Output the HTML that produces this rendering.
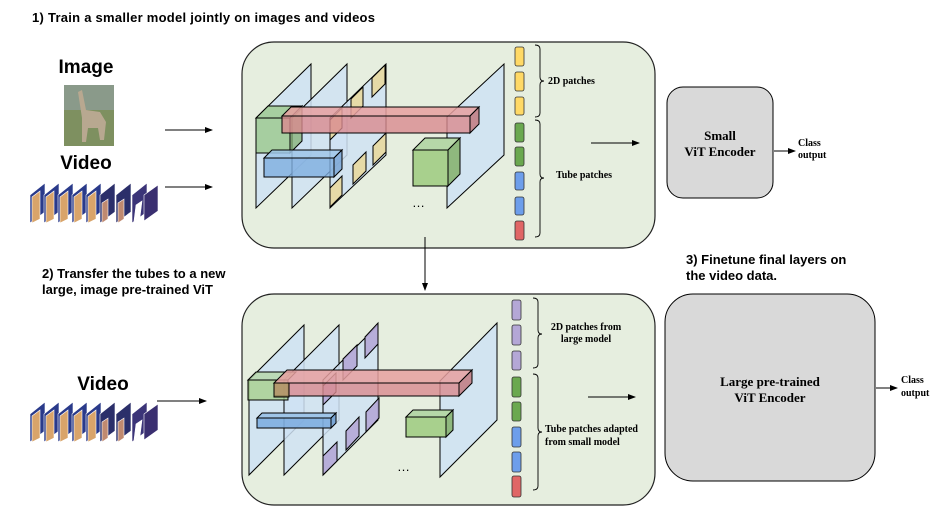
<!DOCTYPE html>
<html><head><meta charset="utf-8"><style>
html,body{margin:0;padding:0;background:#fff;}
svg{display:block;}
.h{font-family:"Liberation Sans",sans-serif;font-weight:bold;font-size:13px;fill:#000;}
.big{font-family:"Liberation Sans",sans-serif;font-weight:bold;font-size:19px;fill:#000;}
.s{font-family:"Liberation Serif",serif;font-weight:bold;font-size:10px;fill:#000;}
.m{font-family:"Liberation Serif",serif;font-weight:bold;font-size:13px;fill:#000;}
</style></head><body>
<svg width="951" height="530" viewBox="0 0 951 530" xmlns="http://www.w3.org/2000/svg">
<defs>
<marker id="a" markerWidth="8" markerHeight="6" refX="7" refY="3" orient="auto"><path d="M0,0 L8,3 L0,6 z" fill="#000"/></marker>
<g id="frames">
  <g stroke="#fff" stroke-width="0.6">
  <polygon points="0,12 15,0 15,29 0,40" fill="#2a3a8a"/><polygon points="2,14 10,8 10,36 2,40" fill="#d9a46a"/>
  <polygon points="14,12 29,0 29,29 14,40" fill="#2a3a8a"/><polygon points="16,14 24,8 24,36 16,40" fill="#d9a46a"/>
  <polygon points="28,12 43,0 43,29 28,40" fill="#2a3a8a"/><polygon points="30,14 38,8 38,36 30,40" fill="#d9a46a"/>
  <polygon points="42,12 57,0 57,29 42,40" fill="#2a3a8a"/><polygon points="44,14 52,8 52,36 44,40" fill="#d9a46a"/>
  <polygon points="56,12 71,0 71,29 56,40" fill="#2a3a8a"/><polygon points="58,14 66,8 66,36 58,40" fill="#d9a46a"/>
  <polygon points="70,12 85,0 85,29 70,40" fill="#2b2f6a"/><polygon points="72,20 78,16 78,36 72,40" fill="#c08a70"/>
  <polygon points="86,12 101,0 101,29 86,40" fill="#2b2f6a"/><polygon points="88,20 94,16 94,36 88,40" fill="#c08a70"/>
  <polygon points="102,12 117,0 117,29 102,40" fill="#3b3478"/><polygon points="106,22 112,18 110,34 104,38" fill="#fff"/>
  <polygon points="114,12 128,2 128,28 114,38" fill="#3a2f70"/>
  </g>
</g>
</defs>

<text class="h" x="32" y="22" textLength="343">1) Train a smaller model jointly on images and videos</text>
<text class="h" x="42" y="278">2) Transfer the tubes to a new</text>
<text class="h" x="42" y="294">large, image pre-trained ViT</text>
<text class="h" x="686" y="264">3) Finetune final layers on</text>
<text class="h" x="686" y="280">the video data.</text>

<text class="big" x="86" y="73" text-anchor="middle">Image</text>
<rect x="64" y="85" width="50" height="61" fill="#7e9060"/>
<rect x="64" y="85" width="50" height="25" fill="#8a9a8a"/>
<path d="M78,92 L82,90 L86,110 L100,112 L106,122 L104,140 L100,140 L98,128 L88,128 L86,142 L82,142 L82,118 Z" fill="#b8a890"/>
<text class="big" x="86" y="169" text-anchor="middle">Video</text>
<use href="#frames" x="30" y="183"/>
<line x1="165" y1="130" x2="212" y2="130" stroke="#000" stroke-width="1" marker-end="url(#a)"/>
<line x1="165" y1="187" x2="212" y2="187" stroke="#000" stroke-width="1" marker-end="url(#a)"/>

<text class="big" x="103" y="390" text-anchor="middle">Video</text>
<use href="#frames" x="30" y="402"/>
<line x1="157" y1="401" x2="206" y2="401" stroke="#000" stroke-width="1" marker-end="url(#a)"/>

<!-- top box -->
<rect x="242" y="42" width="413" height="206" rx="32" fill="#e6eedf" stroke="#222" stroke-width="1.2"/>
<g stroke="#000" stroke-width="1">
<polygon points="256,118 311,64 311,155 256,208" fill="#cfe2f3" fill-opacity="0.9"/>
<polygon points="292,118 347,64 347,155 292,208" fill="#cfe2f3" fill-opacity="0.85"/>
<polygon points="330,118 386,64 386,155 330,208" fill="#cfe2f3" fill-opacity="0.85"/>
<polygon points="447,117 504,64 504,155 447,208" fill="#cfe2f3" fill-opacity="0.9"/>
<g fill="#e9d89a" fill-opacity="0.85">
<polygon points="330,120 342,108 342,128 330,140"/>
<polygon points="351,99 363,87 363,106 351,118"/>
<polygon points="372,78 385,65 385,84 372,97"/>
<polygon points="330,188 342,176 342,195 330,207"/>
<polygon points="353,165 366,152 366,171 353,184"/>
<polygon points="373,146 386,133 386,152 373,165"/>
</g>
<!-- green cube -->
<polygon points="256,118 268,106 302,106 290,118" fill="#93c47d" fill-opacity="0.7"/>
<polygon points="290,118 302,106 302,141 290,153" fill="#7fae6a" fill-opacity="0.7"/>
<rect x="256" y="118" width="34" height="35" fill="#93c47d" fill-opacity="0.7"/>
<!-- red bar -->
<polygon points="282,116 291,107 479,107 470,116" fill="#e6a0a0" fill-opacity="0.85"/>
<polygon points="470,116 479,107 479,124 470,133" fill="#c27a80" fill-opacity="0.85"/>
<rect x="282" y="116" width="188" height="17" fill="#d98a8e" fill-opacity="0.8"/>
<!-- blue bar -->
<polygon points="264,158 272,150 342,150 334,158" fill="#9fc5e8" fill-opacity="0.85"/>
<polygon points="334,158 342,150 342,169 334,177" fill="#7aa6d6" fill-opacity="0.85"/>
<rect x="264" y="158" width="70" height="19" fill="#7eaee0" fill-opacity="0.8"/>
<!-- small green cube -->
<polygon points="413,150 425,138 460,138 448,150" fill="#b6d7a8"/>
<polygon points="448,150 460,138 460,174 448,186" fill="#8fb87e"/>
<rect x="413" y="150" width="35" height="36" fill="#a8d08d"/>
</g>
<text x="412" y="207" font-family="Liberation Sans,sans-serif" font-size="13">…</text>
<g stroke="#333" stroke-width="0.8">
<rect x="515" y="47" width="9" height="19" rx="2" fill="#ffd966"/>
<rect x="515" y="72" width="9" height="19" rx="2" fill="#ffd966"/>
<rect x="515" y="97" width="9" height="18" rx="2" fill="#ffd966"/>
<rect x="515" y="123" width="9" height="19" rx="2" fill="#6aa84f"/>
<rect x="515" y="147" width="9" height="19" rx="2" fill="#6aa84f"/>
<rect x="515" y="172" width="9" height="18" rx="2" fill="#6d9eeb"/>
<rect x="515" y="197" width="9" height="18" rx="2" fill="#6d9eeb"/>
<rect x="515" y="221" width="9" height="19" rx="2" fill="#e06666"/>
</g>
<g fill="none" stroke="#000" stroke-width="0.9">
<path d="M535,45 q5,0 5,4 v28 q0,4 4,4 q-4,0 -4,4 v28 q0,4 -5,4"/>
<path d="M535,120 q5,0 5,4 v50 q0,4 4,4 q-4,0 -4,4 v51 q0,4 -5,4"/>
</g>
<text class="s" x="548" y="84">2D patches</text>
<text class="s" x="556" y="178">Tube patches</text>
<line x1="591" y1="143" x2="639" y2="143" stroke="#000" marker-end="url(#a)"/>

<line x1="425" y1="237" x2="425" y2="290" stroke="#000" marker-end="url(#a)"/>

<!-- small vit -->
<rect x="667" y="87" width="106" height="111" rx="16" fill="#d9d9d9" stroke="#000" stroke-width="1"/>
<text class="m" x="720" y="140" text-anchor="middle">Small</text>
<text class="m" x="720" y="156" text-anchor="middle">ViT Encoder</text>
<line x1="774" y1="151" x2="795" y2="151" stroke="#000" marker-end="url(#a)"/>
<text class="s" x="798" y="146">Class</text>
<text class="s" x="798" y="158">output</text>

<!-- bottom box -->
<rect x="242" y="294" width="413" height="211" rx="32" fill="#e6eedf" stroke="#222" stroke-width="1.2"/>
<g stroke="#000" stroke-width="1">
<polygon points="249,380 304,325 304,420 249,475" fill="#cfe2f3" fill-opacity="0.9"/>
<polygon points="284,380 339,325 339,420 284,475" fill="#cfe2f3" fill-opacity="0.85"/>
<polygon points="323,380 378,325 378,420 323,475" fill="#cfe2f3" fill-opacity="0.85"/>
<polygon points="440,381 497,323 497,420 440,477" fill="#cfe2f3" fill-opacity="0.9"/>
<g fill="#b4a7d6" fill-opacity="0.9">
<polygon points="323,386 336,373 336,392 323,405"/>
<polygon points="343,359 357,345 357,366 343,380"/>
<polygon points="365,337 378,323 378,344 365,358"/>
<polygon points="323,456 337,442 337,461 323,475"/>
<polygon points="346,431 359,417 359,436 346,450"/>
<polygon points="366,412 379,398 379,418 366,432"/>
</g>
<polygon points="248,380 256,372 296,372 288,380" fill="#b6d7a8" fill-opacity="0.8"/>
<rect x="248" y="380" width="40" height="20" fill="#a8d08d" fill-opacity="0.8"/>
<polygon points="274,383 287,370 472,370 459,383" fill="#e6a0a0" fill-opacity="0.85"/>
<polygon points="459,383 472,370 472,383 459,396" fill="#c27a80" fill-opacity="0.85"/>
<rect x="274" y="383" width="185" height="13" fill="#d98a8e" fill-opacity="0.8"/>
<rect x="274" y="383" width="15" height="14" fill="#a89a60" fill-opacity="0.7"/>
<polygon points="257,418 262,413 336,413 331,418" fill="#9fc5e8"/>
<polygon points="331,418 336,413 336,423 331,428" fill="#7aa6d6"/>
<rect x="257" y="418" width="74" height="10" fill="#7eaee0" fill-opacity="0.9"/>
<polygon points="406,417 413,410 453,410 446,417" fill="#b6d7a8"/>
<polygon points="446,417 453,410 453,430 446,437" fill="#8fb87e"/>
<rect x="406" y="417" width="40" height="20" fill="#a8d08d"/>
</g>
<text x="397" y="471" font-family="Liberation Sans,sans-serif" font-size="13">…</text>
<g stroke="#333" stroke-width="0.8">
<rect x="512" y="300" width="9" height="20" rx="2" fill="#b4a7d6"/>
<rect x="512" y="325" width="9" height="20" rx="2" fill="#b4a7d6"/>
<rect x="512" y="351" width="9" height="19" rx="2" fill="#b4a7d6"/>
<rect x="512" y="377" width="9" height="20" rx="2" fill="#6aa84f"/>
<rect x="512" y="402" width="9" height="19" rx="2" fill="#6aa84f"/>
<rect x="512" y="427" width="9" height="20" rx="2" fill="#6d9eeb"/>
<rect x="512" y="452" width="9" height="20" rx="2" fill="#6d9eeb"/>
<rect x="512" y="476" width="9" height="21" rx="2" fill="#e06666"/>
</g>
<g fill="none" stroke="#000" stroke-width="0.9">
<path d="M533,298 q5,0 5,4 v28 q0,4 4,4 q-4,0 -4,4 v26 q0,4 -5,4"/>
<path d="M533,374 q5,0 5,4 v50 q0,4 4,4 q-4,0 -4,4 v50 q0,4 -5,4"/>
</g>
<text class="s" x="586" y="330" text-anchor="middle">2D patches from</text>
<text class="s" x="586" y="342" text-anchor="middle">large model</text>
<text class="s" x="545" y="432">Tube patches adapted</text>
<text class="s" x="545" y="445">from small model</text>
<line x1="588" y1="397" x2="635" y2="397" stroke="#000" marker-end="url(#a)"/>

<!-- large vit -->
<rect x="665" y="294" width="210" height="187" rx="28" fill="#d9d9d9" stroke="#000" stroke-width="1"/>
<text class="m" x="770" y="386" text-anchor="middle">Large pre-trained</text>
<text class="m" x="770" y="402" text-anchor="middle">ViT Encoder</text>
<line x1="876" y1="388" x2="897" y2="388" stroke="#000" marker-end="url(#a)"/>
<text class="s" x="901" y="383">Class</text>
<text class="s" x="901" y="396">output</text>
</svg>
</body></html>
